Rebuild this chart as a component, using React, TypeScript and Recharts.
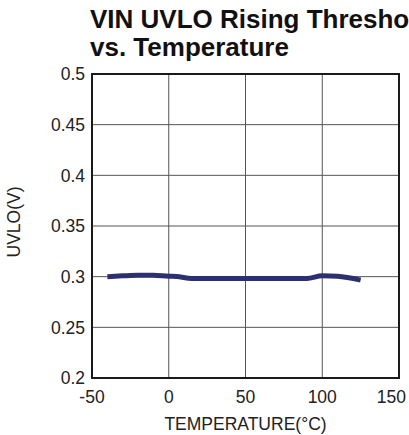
import React from "react";
import { LineChart, Line, XAxis, YAxis, CartesianGrid, ReferenceArea } from "recharts";

const temperatures = [-40, -30, -20, -10, 0, 5, 15, 30, 50, 70, 90, 100, 110, 125];
const uvloValues = [0.3, 0.3008, 0.3014, 0.3014, 0.3004, 0.3002, 0.2982, 0.2982, 0.2982, 0.2982, 0.2982, 0.3008, 0.3004, 0.2966];
const xTicks = [-50, 0, 50, 100, 150];
const yTicks = [0.2, 0.25, 0.3, 0.35, 0.4, 0.45, 0.5];

const data = temperatures.map((t, i) => ({ t, v: uvloValues[i] }));

const FONT = '"Liberation Sans", Arial, Helvetica, sans-serif';
const CHART_W = 409;

const XTick = (props: any) => {
  const { x, y, payload } = props;
  const label = String(payload.value);
  const halfW = label.length * 17.5 * 0.556 * 0.5;
  const cx = Math.min(x, CHART_W - halfW - 3);
  return (
    <text x={cx} y={y} dy="0.71em" textAnchor="middle" fontFamily={FONT} fontSize={17.5} fill="#222">
      {label}
    </text>
  );
};

const YLabel = (props: any) => {
  const vb = props.viewBox || {};
  const cx = 14;
  const cy = vb.y + vb.height / 2 - 4;
  return (
    <text
      x={cx}
      y={cy}
      transform={`rotate(-90, ${cx}, ${cy})`}
      textAnchor="middle"
      dominantBaseline="central"
      fontFamily={FONT}
      fontSize={17.5}
      fill="#222"
    >
      UVLO(V)
    </text>
  );
};

export default function App() {
  return (
    <div style={{ position: "absolute", left: 0, top: 0, width: 409, height: 435, background: "#fff", overflow: "hidden" }}>
      <div
        style={{
          position: "absolute",
          left: 90,
          top: 5,
          fontFamily: FONT,
          fontWeight: "bold",
          fontSize: 26,
          lineHeight: "28px",
          color: "#111",
          whiteSpace: "nowrap",
        }}
      >
        VIN UVLO Rising Threshold
        <br />
        vs. Temperature
      </div>
      <LineChart
        width={CHART_W}
        height={435}
        data={data}
        margin={{ top: 74, right: 10, left: 0, bottom: 0 }}
        style={{ position: "absolute", left: 0, top: 0 }}
      >
        <CartesianGrid stroke="#555" strokeWidth={1} />
        <XAxis
          dataKey="t"
          type="number"
          domain={[-50, 150]}
          ticks={xTicks}
          height={57}
          axisLine={false}
          tickLine={false}
          tickSize={6}
          tickMargin={7}
          interval={0}
          tick={<XTick />}
          label={{ value: "TEMPERATURE(°C)", position: "insideBottom", offset: 5, style: { fontFamily: FONT, fontSize: 17.5, fill: "#222" } }}
        />
        <YAxis
          type="number"
          domain={[0.2, 0.5]}
          ticks={yTicks}
          width={92}
          axisLine={false}
          tickLine={false}
          tickSize={6}
          tickMargin={1}
          interval={0}
          tickFormatter={(v: number) => String(Number(v.toFixed(2)))}
          tick={{ fontFamily: FONT, fontSize: 17.5, fill: "#222" }}
          label={<YLabel />}
        />
        <ReferenceArea x1={-50} x2={150} y1={0.2} y2={0.5} fill="none" stroke="#1a1a1a" strokeWidth={2} ifOverflow="visible" />
        <Line
          dataKey="v"
          type="monotone"
          stroke="#2d3070"
          strokeWidth={5}
          dot={false}
          isAnimationActive={false}
        />
      </LineChart>
    </div>
  );
}
